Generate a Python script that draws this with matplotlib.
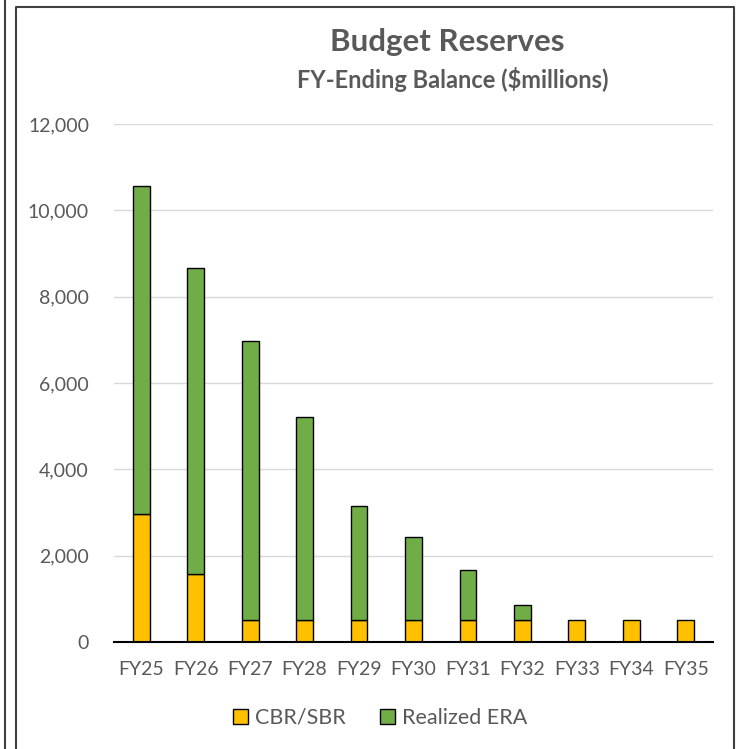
import matplotlib.pyplot as plt
from matplotlib.lines import Line2D

# data
years = ['FY25', 'FY26', 'FY27', 'FY28', 'FY29', 'FY30', 'FY31', 'FY32', 'FY33', 'FY34', 'FY35']
cbr_sbr = [2960, 1580, 510, 510, 510, 510, 510, 510, 510, 510, 510]
era = [7600, 7080, 6460, 4700, 2640, 1920, 1160, 350, 0, 0, 0]

yellow = '#FFC000'
green = '#70AD47'
grey = '#595959'

plt.rcParams['font.family'] = ['Lato', 'DejaVu Sans']

fig = plt.figure(figsize=(7.38, 7.49), dpi=100)
ax = fig.add_axes([114/738, 1 - 642/749, (713 - 114)/738, (642 - 124)/749])

x = range(len(years))
ax.bar(x, cbr_sbr, width=0.31, color=yellow, edgecolor='black', linewidth=1, label='CBR/SBR', zorder=3)
era_bars = ax.bar(x, era, width=0.31, bottom=cbr_sbr, color=green, edgecolor='black', linewidth=1,
                  label='Realized ERA', zorder=3)
# no green outline where there is no ERA
for b, v in zip(era_bars, era):
    if v == 0:
        b.set_visible(False)

ax.set_xlim(-0.5, len(years) - 0.5)
ax.set_ylim(0, 12000)
ax.set_yticks(range(0, 12001, 2000))
ax.set_yticklabels([f'{v:,}' for v in range(0, 12001, 2000)])
ax.set_xticks(list(x))
ax.set_xticklabels(years)
ax.tick_params(axis='both', length=0, labelsize=14, colors=grey)
ax.tick_params(axis='y', pad=18)
ax.tick_params(axis='x', pad=14)
ax.yaxis.grid(True, color='#d9d9d9', linewidth=1, zorder=0)
for s in ['top', 'right', 'left']:
    ax.spines[s].set_visible(False)
ax.spines['bottom'].set_color('black')
ax.spines['bottom'].set_linewidth(1.5)
ax.spines['bottom'].set_zorder(4)

fig.text(447/738, 1 - 42/749, 'Budget Reserves', ha='center', va='center',
         fontsize=22.5, fontweight='bold', color=grey)
fig.text(453/738, 1 - 79/749, 'FY-Ending Balance ($millions)', ha='center', va='center',
         fontsize=17, fontweight='bold', color=grey)

leg = fig.legend(loc='center', bbox_to_anchor=(380/738, 1 - 718/749), ncol=2, frameon=False,
                 fontsize=15.5, handlelength=0.7, handleheight=0.7, handletextpad=0.3,
                 columnspacing=1.6)
for t in leg.get_texts():
    t.set_color(grey)

# frame lines
fig.add_artist(Line2D([5/738, 5/738], [0, 1], color='#404040', linewidth=1.5))
fig.add_artist(Line2D([16/738, 16/738, 734/738, 734/738], [0, 1 - 7/749, 1 - 7/749, 0],
                      color='#404040', linewidth=1.5))

plt.savefig('out.png', dpi=100)
